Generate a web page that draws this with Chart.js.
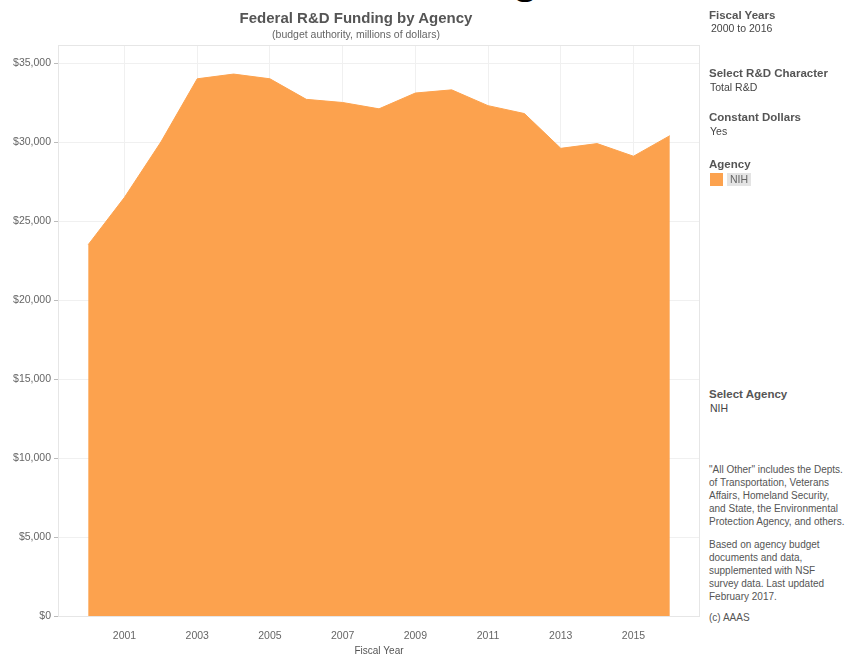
<!DOCTYPE html>
<html>
<head>
<meta charset="utf-8">
<script src="https://cdn.jsdelivr.net/npm/chart.js@4.4.0/dist/chart.umd.min.js"></script>
<style>
  body { margin: 0; background: #fff; font-family: "Liberation Sans", Arial, sans-serif; }
  #wrap { position: relative; width: 856px; height: 657px; overflow: hidden; }
  #chartBox { position: absolute; left: 0; top: 0; width: 702px; height: 657px; }
  .t { position: absolute; white-space: nowrap; }
  .h { font-weight: bold; font-size: 11.5px; color: #555; }
  .v { font-size: 10.5px; color: #444; }
  .note { position: absolute; left: 709px; font-size: 10px; line-height: 13px; color: #555; width: 150px; }
</style>
</head>
<body>
<div id="wrap">
  <div class="t" style="left:512px; top:-47px; font-size:44px; font-weight:bold; color:#000;">g</div>
  <div id="chartBox"><canvas id="grafico"></canvas></div>
  <div class="t" style="left:0; width:712px; top:9px; text-align:center; font-size:15px; font-weight:bold; color:#555;">Federal R&amp;D Funding by Agency</div>
  <div class="t" style="left:0; width:712px; top:28px; text-align:center; font-size:10.5px; color:#666;">(budget authority, millions of dollars)</div>

  <div class="t h" style="left:709px; top:9px;">Fiscal Years</div>
  <div class="t v" style="left:711px; top:22px;">2000 to 2016</div>
  <div class="t h" style="left:709px; top:67px;">Select R&amp;D Character</div>
  <div class="t v" style="left:710px; top:81px;">Total R&amp;D</div>
  <div class="t h" style="left:709px; top:111px;">Constant Dollars</div>
  <div class="t v" style="left:710px; top:125px;">Yes</div>
  <div class="t h" style="left:709px; top:158px;">Agency</div>
  <div class="t" style="left:710px; top:173px; width:13px; height:13px; background:#FCA24E;"></div>
  <div class="t v" style="left:727px; top:173px; padding:0 3px; height:13px; line-height:13px; background:#e4e4e4; color:#666;">NIH</div>
  <div class="t h" style="left:709px; top:388px;">Select Agency</div>
  <div class="t v" style="left:710px; top:402px;">NIH</div>

  <div class="note" style="top:463px;">"All Other" includes the Depts.<br>of Transportation, Veterans<br>Affairs, Homeland Security,<br>and State, the Environmental<br>Protection Agency, and others.</div>
  <div class="note" style="top:538px;">Based on agency budget<br>documents and data,<br>supplemented with NSF<br>survey data. Last updated<br>February 2017.</div>
  <div class="note" style="top:611px;">(c) AAAS</div>
</div>
<script>
// NIH, valori (milioni di dollari costanti)
const anni = [2000, 2001, 2002, 2003, 2004, 2005, 2006, 2007, 2008, 2009, 2010, 2011, 2012, 2013, 2014, 2015, 2016];
const nih = [23500, 26500, 30000, 34000, 34300, 34000, 32700, 32500, 32100, 33100, 33300, 32300, 31800, 29600, 29900, 29100, 30400];
const tickAnni = [2001, 2003, 2005, 2007, 2009, 2011, 2013, 2015];
const tickValori = [0, 5000, 10000, 15000, 20000, 25000, 30000, 35000];

const bordo = {
    id: 'bordo',
    beforeDatasetsDraw(chart) {
        const a = chart.chartArea, c = chart.ctx;
        c.save();
        c.strokeStyle = '#e6e6e6';
        c.lineWidth = 1;
        c.strokeRect(a.left + 0.5, a.top + 0.5, a.right - a.left - 1, a.bottom - a.top);
        c.restore();
    }
};

new Chart(document.getElementById('grafico'), {
    type: 'line',
    data: {
        datasets: [{
            label: 'NIH',
            data: anni.map((a, i) => ({ x: a, y: nih[i] })),
            backgroundColor: '#FCA24E',
            borderColor: '#FCA24E',
            borderWidth: 1,
            pointRadius: 0,
            fill: 'origin',
            tension: 0
        }]
    },
    plugins: [bordo],
    options: {
        responsive: true,
        maintainAspectRatio: false,
        animation: false,
        layout: { padding: { top: 45, right: 2, left: 0, bottom: 0 } },
        plugins: { legend: { display: false }, tooltip: { enabled: false } },
        scales: {
            x: {
                type: 'linear',
                min: 1999.17,
                max: 2016.83,
                afterBuildTicks: s => { s.ticks = tickAnni.map(v => ({ value: v })); },
                afterFit: s => { s.height = 41; },
                grid: { color: '#f0f0f0', drawTicks: false },
                border: { display: false },
                ticks: { color: '#666', font: { family: 'Liberation Sans', size: 10.5 }, padding: 14, maxRotation: 0, callback: v => String(v) },
                title: { display: true, text: 'Fiscal Year', color: '#555', font: { family: 'Liberation Sans', size: 10 }, padding: { top: 0, bottom: 0 } }
            },
            y: {
                min: 0,
                max: 36140,
                afterBuildTicks: s => { s.ticks = tickValori.map(v => ({ value: v })); },
                afterFit: s => { s.width = 58; },
                grid: { color: '#f0f0f0', tickLength: 4, tickColor: '#bbb' },
                border: { display: false },
                ticks: { color: '#666', font: { family: 'Liberation Sans', size: 10.5 }, padding: 3, callback: v => '$' + v.toLocaleString('en-US') }
            }
        }
    }
});
</script>
</body>
</html>
